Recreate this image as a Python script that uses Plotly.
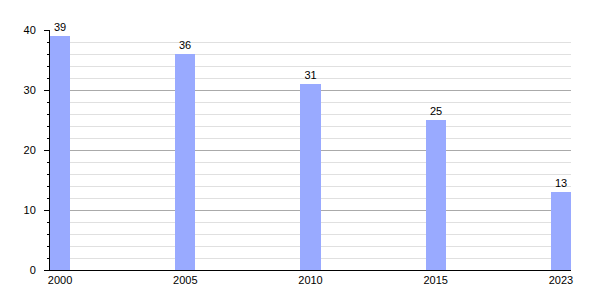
import plotly.graph_objects as go

years = ["2000", "2005", "2010", "2015", "2023"]
values = [39, 36, 31, 25, 13]

fig = go.Figure()
fig.add_trace(go.Bar(
    x=years, y=values, width=0.16,
    marker=dict(color="#99aaff", line=dict(width=0)),
    text=[str(v) for v in values], textposition="outside",
    textfont=dict(family="Liberation Sans, Arial, sans-serif", size=11, color="#000"),
    cliponaxis=False,
))
fig.update_layout(
    width=600, height=300,
    margin=dict(l=50, r=29, t=30, b=30),
    plot_bgcolor="white", paper_bgcolor="white",
    showlegend=False,
    font=dict(family="Liberation Sans, Arial, sans-serif", size=11, color="#000"),
    xaxis=dict(type="category", range=[-0.08, 4.08], showgrid=False,
               showline=True, linecolor="#000", linewidth=1, ticks="",
               tickfont=dict(size=11), ticklabelstandoff=0),
    yaxis=dict(range=[0, 40], dtick=10, showgrid=True, gridcolor="#aaaaaa", gridwidth=1,
               showline=True, linecolor="#000", linewidth=1, ticks="outside",
               ticklen=5, tickcolor="#000", zeroline=False, ticklabelstandoff=6,
               minor=dict(dtick=2, showgrid=True, gridcolor="#e0e0e0", ticks="outside",
                          ticklen=2, tickcolor="#000")),
    bargap=0,
)
fig.write_html("out.html")
